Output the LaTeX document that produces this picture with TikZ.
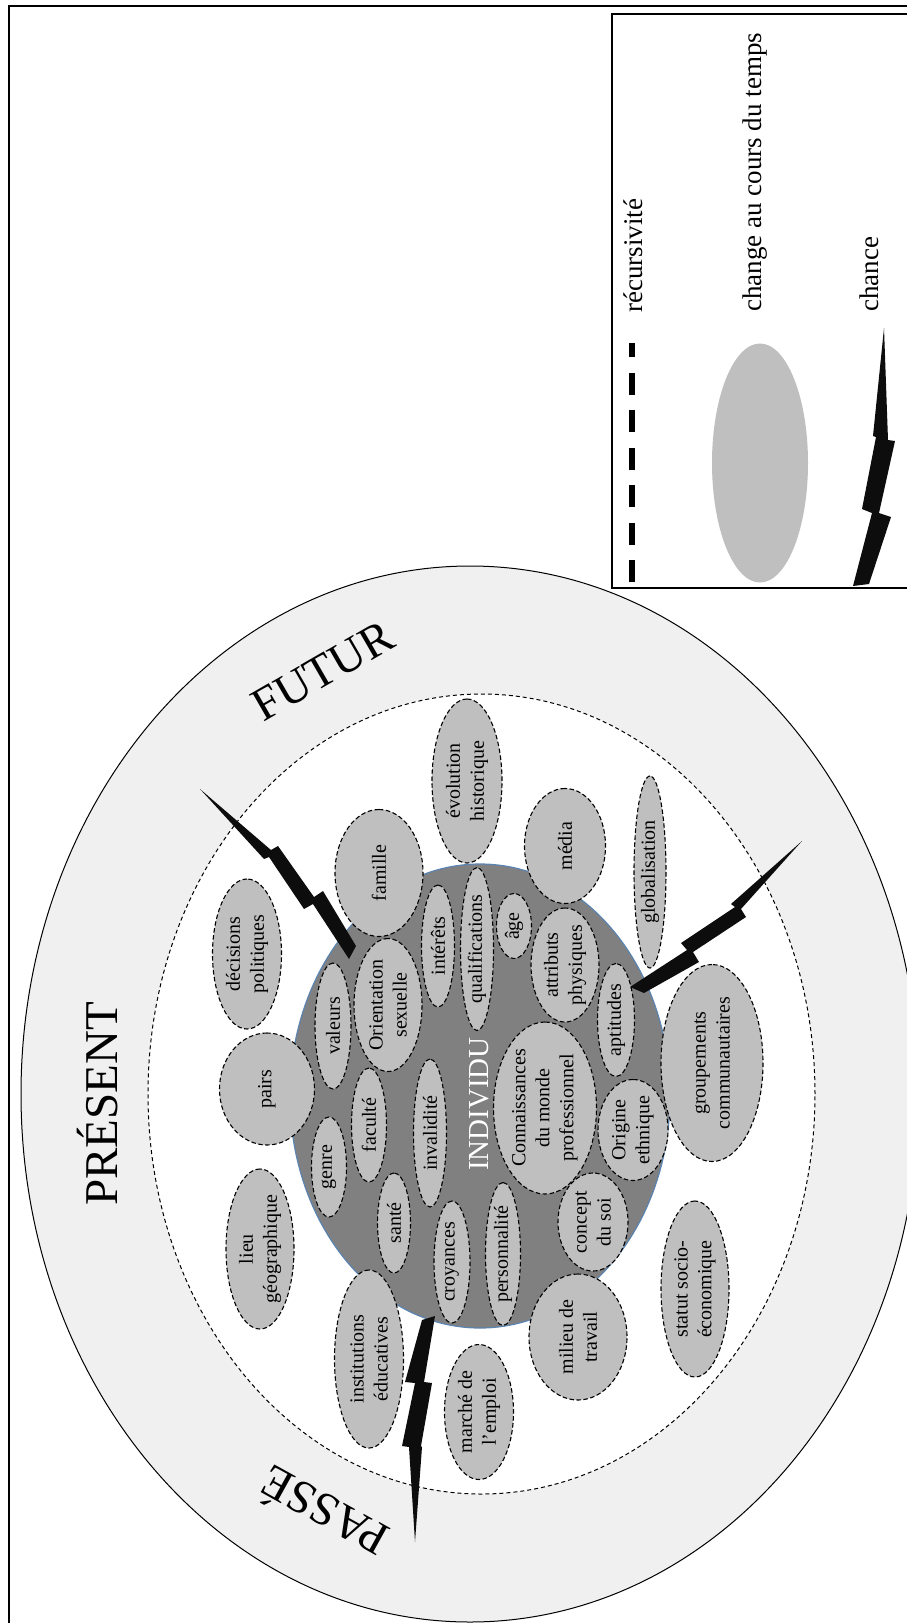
\documentclass[tikz,border=0pt]{standalone}
\usepackage{fontspec}
\setmainfont{Liberation Serif}
\usetikzlibrary{shapes.geometric}

\definecolor{grisclair}{HTML}{F0F0F0}
\definecolor{grisbulle}{HTML}{BFBFBF}
\definecolor{grisfonce}{HTML}{808080}
\definecolor{bleubord}{HTML}{5B84B1}

\begin{document}
\begin{tikzpicture}
[x=1pt,y=-1pt,%
  bulle/.style={shape=ellipse,draw,line width=1.1pt,dash pattern=on 4.5pt off 2.5pt,fill=grisbulle,
    inner sep=0pt,rotate=90,align=center,font=\fontsize{20}{24}\selectfont},%
  temps/.style={inner sep=0pt,font=\fontsize{47}{47}\selectfont},%
  legende/.style={inner sep=0pt,rotate=90,anchor=west,font=\fontsize{27}{27}\selectfont},%
  eclair/.style={fill=black!95,draw=none}]
\clip[use as bounding box] (0,0) rectangle (907,1623);
\draw[line width=2.5pt] (9,1623) -- (9,6) -- (907,6);
\node[shape=ellipse,draw,line width=1pt,fill=grisclair,inner sep=0pt,
  minimum width=898pt,minimum height=1056pt] (futur) at (470,1094) {};
\node[shape=ellipse,draw,line width=1pt,dash pattern=on 4pt off 3pt,fill=white,inner sep=0pt,
  minimum width=667pt,minimum height=800pt] (present) at (481.5,1094) {};
\node[shape=ellipse,draw=bleubord,line width=1.2pt,fill=grisfonce,inner sep=0pt,
  minimum width=380pt,minimum height=464pt] (individu) at (480,1096) {};

\node[temps,rotate=90] (lbpresent) at (98,1104) {PRÉSENT};
\node[temps,rotate=30] (lbfutur) at (323,671) {FUTUR};
\node[temps,rotate=151] (lbpasse) at (323,1514) {PASSÉ};
\node[inner sep=0pt,rotate=90,text=white,font=\fontsize{29}{29}\selectfont] (lbindividu) at (479,1104) {INDIVIDU};

\node[bulle,minimum width=164pt,minimum height=70pt] (evolution) at (467,781) {évolution\\historique};
\node[bulle,minimum width=127pt,minimum height=88pt] (famille) at (379,873) {famille};
\node[bulle,minimum width=115pt,minimum height=81pt] (media) at (565,846) {média};
\node[bulle,minimum width=192pt,minimum height=32pt] (globalisation) at (650,872) {globalisation};
\node[bulle,minimum width=150pt,minimum height=69pt] (decisions) at (247,954) {décisions\\politiques};
\node[bulle,minimum width=122pt,minimum height=33pt] (interets) at (438,946) {intérêts};
\node[bulle,minimum width=163pt,minimum height=33pt] (qualifications) at (477,949) {qualifications};
\node[bulle,minimum width=65pt,minimum height=35pt] (age) at (514,926) {âge};
\node[bulle,minimum width=114pt,minimum height=68pt] (attributs) at (565,965) {attributs\\physiques};
\node[bulle,minimum width=113pt,minimum height=37pt] (aptitudes) at (616,1020) {aptitudes};
\node[bulle,minimum width=126pt,minimum height=36pt] (valeurs) at (333,1026) {valeurs};
\node[bulle,minimum width=133pt,minimum height=68pt] (orientation) at (388,1005) {Orientation\\sexuelle};
\node[bulle,minimum width=112pt,minimum height=95pt] (pairs) at (267,1089) {pairs};
\node[bulle,minimum width=100pt,minimum height=35pt] (genre) at (329,1167) {genre};
\node[bulle,minimum width=114pt,minimum height=35pt] (faculte) at (369,1125) {faculté};
\node[bulle,minimum width=148pt,minimum height=33pt] (invalidite) at (430,1133) {invalidité};
\node[bulle,minimum width=100pt,minimum height=33pt] (sante) at (394,1223) {santé};
\node[bulle,minimum width=160pt,minimum height=68pt] (lieu) at (260,1249) {lieu\\géographique};
\node[bulle,minimum width=178pt,minimum height=69pt] (institutions) at (369,1359) {institutions\\éducatives};
\node[bulle,minimum width=122pt,minimum height=36pt] (croyances) at (452,1262) {croyances};
\node[bulle,minimum width=143pt,minimum height=35pt] (personnalite) at (503,1254) {personnalité};
\node[bulle,minimum width=98pt,minimum height=70pt] (concept) at (593,1222) {concept\\du soi};
\node[bulle,minimum width=126pt,minimum height=98pt] (milieu) at (578,1337) {milieu de\\travail};
\node[bulle,minimum width=135pt,minimum height=69pt] (marche) at (479,1412) {marché de\\l'emploi};
\node[bulle,minimum width=176pt,minimum height=68pt] (statut) at (695,1289) {statut socio-\\économique};
\node[bulle,minimum width=101pt,minimum height=70pt] (origine) at (633,1130) {Origine\\ethnique};
\node[bulle,minimum width=172pt,minimum height=103pt] (connaissances) at (545,1108) {Connaissances\\du monde\\professionnel};
\node[bulle,minimum width=197pt,minimum height=102pt] (groupements) at (712,1063) {groupements\\communautaires};

\fill[eclair] (200,789) -- (271,850) -- (278,846) -- (314,897) -- (323,891) -- (356,946) -- (349,959)
  -- (313,904) -- (304,909) -- (269,857) -- (264,859) -- cycle;
\fill[eclair] (802,841) -- (741,909) -- (746,917) -- (693,952) -- (699,962) -- (644,993) -- (630,987)
  -- (687,950) -- (681,943) -- (735,907) -- (731,904) -- cycle;
\fill[eclair] (435,1316) -- (424,1382) -- (432,1383) -- (421,1446) -- (422,1447) -- (415,1542) -- (409,1447)
  -- (402,1446) -- (415,1383) -- (405,1382) -- (422,1320) -- cycle;

\fill[white] (612,14) rectangle (907,588);
\draw[line width=1.5pt] (907,14) -- (612,14) -- (612,588) -- (907,588);
\coordinate (recbas) at (632,582);
\coordinate (rechaut) at (632,343);
\draw[line width=6pt,dash pattern=on 22pt off 15.5pt] (recbas) -- (rechaut);
\node[shape=ellipse,fill=grisbulle,inner sep=0pt,minimum width=96pt,minimum height=239pt] (change) at (760,463) {};
\fill[eclair] (884,328) -- (888,440) -- (895,441) -- (879,513) -- (891,517) -- (869,584) -- (853,586)
  -- (872,513) -- (862,509) -- (876,437) -- (873,436) -- cycle;
\node[legende] (lbrecursivite) at (633,313) {récursivité};
\node[legende] (lbchange) at (755,312) {change au cours du temps};
\node[legende] (lbchance) at (869,312) {chance};
\end{tikzpicture}
\end{document}
